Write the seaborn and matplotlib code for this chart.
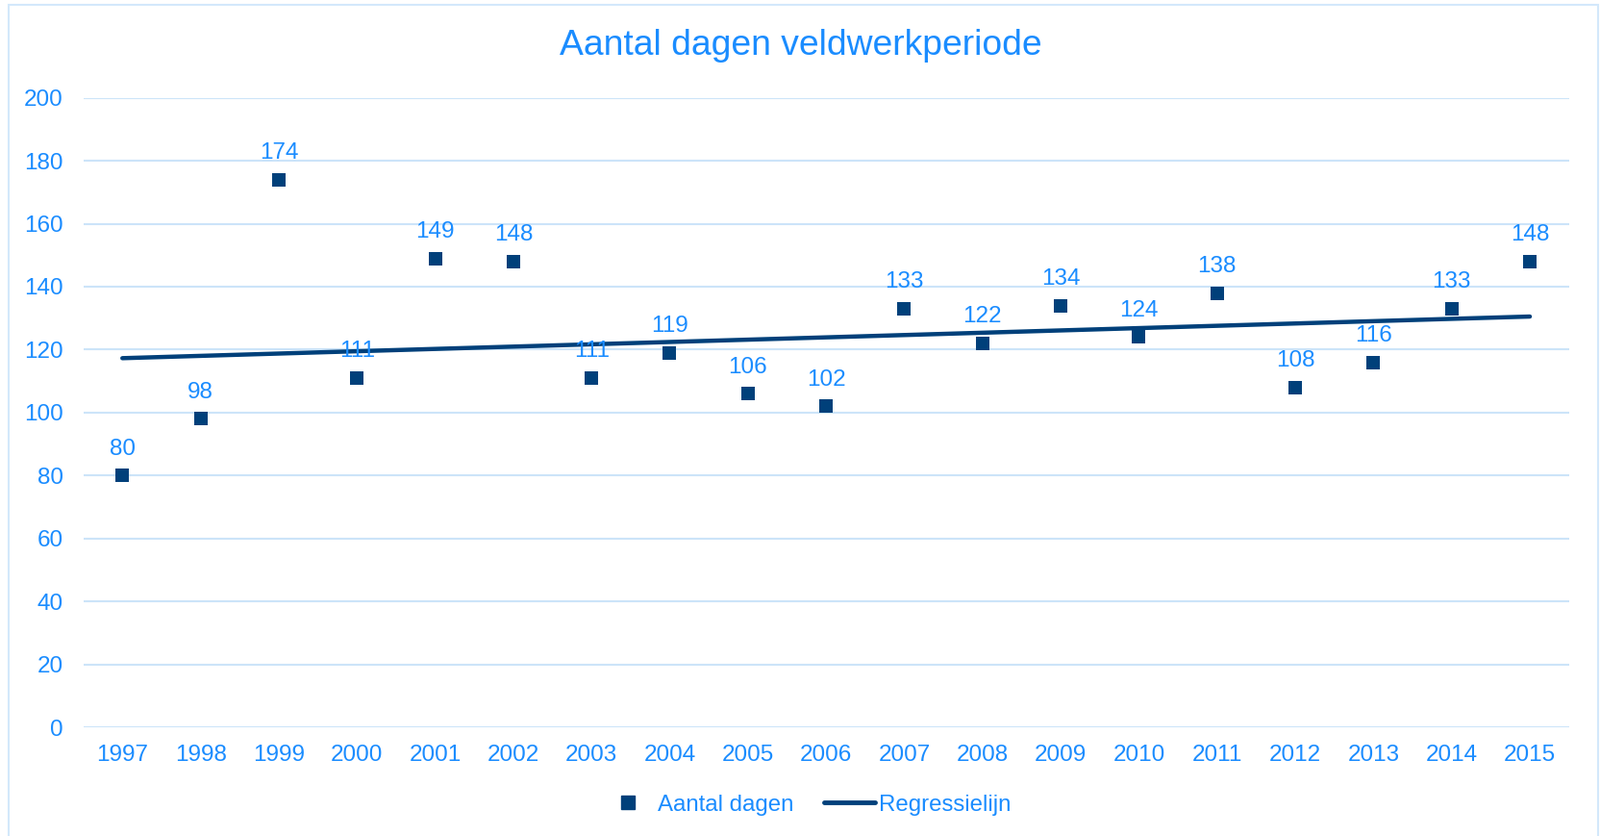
import numpy as np
import pandas as pd
import seaborn as sns
import matplotlib.pyplot as plt
from matplotlib.patches import Rectangle
from matplotlib.lines import Line2D

# data
jaren = ['1997', '1998', '1999', '2000', '2001', '2002', '2003', '2004', '2005', '2006',
         '2007', '2008', '2009', '2010', '2011', '2012', '2013', '2014', '2015']
dagen = [80, 98, 174, 111, 149, 148, 111, 119, 106, 102,
         133, 122, 134, 124, 138, 108, 116, 133, 148]

df = pd.DataFrame({'jaar': jaren, 'dagen': dagen})
df['pos'] = np.arange(len(df))

tekst = '#1a8cff'
donker = '#00407a'
raster = '#cce4f9'

sns.set_style('white')
plt.rcParams['font.family'] = ['Liberation Sans', 'DejaVu Sans']

fig = plt.figure(figsize=(16.65, 8.69), dpi=100)
ax = fig.add_axes([0.052, 0.130, 0.928, 0.753])

# outer chart border
fig.patches.append(Rectangle((9 / 1665, -0.01), 1653 / 1665, 1 - 5 / 869 + 0.01,
                             transform=fig.transFigure, fill=False,
                             edgecolor='#d3e8fb', linewidth=1.5))

# regression line
sns.regplot(data=df, x='pos', y='dagen', scatter=False, ci=None, ax=ax,
            line_kws={'color': donker, 'linewidth': 3.2, 'solid_capstyle': 'round', 'zorder': 3})

sns.scatterplot(data=df, x='pos', y='dagen', marker='s', s=115, color=donker,
                edgecolor=donker, linewidth=0, ax=ax, zorder=4)

for p, v in zip(df['pos'], df['dagen']):
    ax.annotate(str(v), (p, v), xytext=(0, 12), textcoords='offset points',
                ha='center', va='bottom', color=tekst, fontsize=17.5, zorder=5)

ax.set_xlim(-0.5, len(jaren) - 0.5)
ax.set_ylim(0, 200)
ax.set_yticks(range(0, 201, 20))
ax.set_xticks(df['pos'])
ax.set_xticklabels(jaren)
ax.grid(axis='y', color=raster, linewidth=1.5)
ax.set_axisbelow(True)
for s in ax.spines.values():
    s.set_visible(False)
ax.tick_params(axis='both', length=0, labelsize=17.5, labelcolor=tekst)
ax.tick_params(axis='y', pad=15)
ax.tick_params(axis='x', pad=13)
ax.set_xlabel('')
ax.set_ylabel('')

fig.text(0.5, 0.945, 'Aantal dagen veldwerkperiode', ha='center', va='center',
         color=tekst, fontsize=26.8)

handles = [Line2D([], [], marker='s', linestyle='none', color=donker, markersize=10),
           Line2D([], [], color=donker, linewidth=3.5, solid_capstyle='round')]
leg = fig.legend(handles, ['Aantal dagen', 'Regressielijn'], loc='center',
                 bbox_to_anchor=(0.504, 0.037), ncol=2, frameon=False, fontsize=17.3,
                 handlelength=2.2, columnspacing=1.3, handletextpad=0.2)
for t in leg.get_texts():
    t.set_color(tekst)

fig.savefig('out.png', dpi=100)
